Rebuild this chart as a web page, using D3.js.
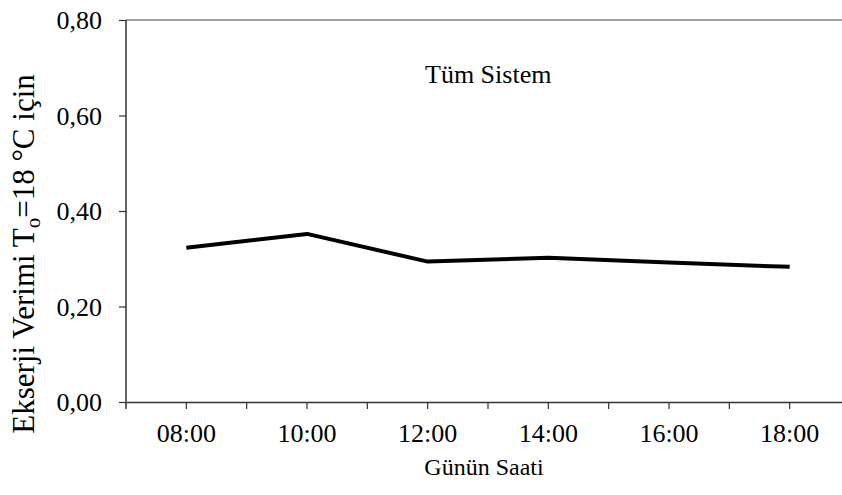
<!DOCTYPE html>
<html>
<head>
<meta charset="utf-8">
<script src="https://cdn.jsdelivr.net/npm/d3@7/dist/d3.min.js"></script>
<style>
  body { margin: 0; background: #fff; }
</style>
</head>
<body>
<div id="chart"></div>
<script>
// data
var hours = ["08:00", "10:00", "12:00", "14:00", "16:00", "18:00"];
var efficiency = [0.323, 0.352, 0.294, 0.302, 0.292, 0.283];
var yTicks = [0, 0.2, 0.4, 0.6, 0.8];

var width = 842, height = 495;
var plotLeft = 126, plotRight = 850, plotTop = 20, plotBottom = 402;
var serif = "'Liberation Serif', 'DejaVu Serif', serif";

var svg = d3.select("#chart").append("svg")
    .attr("width", width)
    .attr("height", height)
    .style("font-family", serif);

var x = d3.scaleBand().domain(hours).range([plotLeft, plotRight]).padding(0);
var y = d3.scaleLinear().domain([0, 0.8]).range([plotBottom, plotTop]);

// top frame line
svg.append("line")
    .attr("x1", plotLeft).attr("x2", plotRight)
    .attr("y1", plotTop).attr("y2", plotTop)
    .attr("stroke", "#808080").attr("stroke-width", 1.5);

// y axis
var yAxis = svg.append("g")
    .attr("transform", "translate(" + plotLeft + ",0)")
    .call(d3.axisLeft(y)
        .tickValues(yTicks)
        .tickSize(7)
        .tickPadding(17)
        .tickFormat(function(d) { return d3.format(".2f")(d).replace(".", ","); }));
yAxis.style("font-family", serif);
yAxis.select(".domain").attr("stroke", "#333").attr("stroke-width", 1.5)
    .attr("d", "M0," + plotTop + "V" + (plotBottom + 7));
yAxis.selectAll(".tick line").attr("stroke", "#333").attr("stroke-width", 1.2);
yAxis.selectAll("text")
    .attr("font-size", 26)
    .attr("dy", "0.34em");

// x axis
var xAxis = svg.append("g")
    .attr("transform", "translate(0," + plotBottom + ")")
    .call(d3.axisBottom(x).tickSize(7).tickSizeOuter(0));
xAxis.style("font-family", serif);
xAxis.select(".domain").attr("stroke", "#333").attr("stroke-width", 1.5);
xAxis.selectAll(".tick line").attr("stroke", "#333").attr("stroke-width", 1.2);
xAxis.selectAll("text")
    .attr("font-size", 26)
    .attr("y", 40)
    .attr("dy", 0);

// extra ticks on the band edges
xAxis.selectAll(".edge")
    .data(hours.slice(1))
    .enter().append("line")
    .attr("class", "edge")
    .attr("x1", function(d) { return x(d); })
    .attr("x2", function(d) { return x(d); })
    .attr("y1", 0).attr("y2", 7)
    .attr("stroke", "#333").attr("stroke-width", 1.2);

// the line
var line = d3.line()
    .x(function(d, i) { return x(hours[i]) + x.bandwidth() / 2; })
    .y(function(d) { return y(d); });

svg.append("path")
    .datum(efficiency)
    .attr("d", line)
    .attr("fill", "none")
    .attr("stroke", "#000")
    .attr("stroke-width", 4)
    .attr("stroke-linejoin", "round");

// annotation
svg.append("text")
    .attr("x", 425).attr("y", 83)
    .style("font-family", serif)
    .attr("font-size", 26)
    .text("T\u00fcm Sistem");

// axis titles
svg.append("text")
    .attr("x", 484).attr("y", 475)
    .attr("text-anchor", "middle")
    .style("font-family", serif)
    .attr("font-size", 24)
    .text("G\u00fcn\u00fcn Saati");

var yl = svg.append("text")
    .attr("transform", "translate(34,254) rotate(-90)")
    .attr("text-anchor", "middle")
    .style("font-family", serif)
    .attr("font-size", 31);
yl.append("tspan").text("Ekserji Verimi T");
yl.append("tspan").attr("font-size", 21).attr("dy", 6).text("o");
yl.append("tspan").attr("dy", -6).text("=18 \u00b0C i\u00e7in");
</script>
</body>
</html>
